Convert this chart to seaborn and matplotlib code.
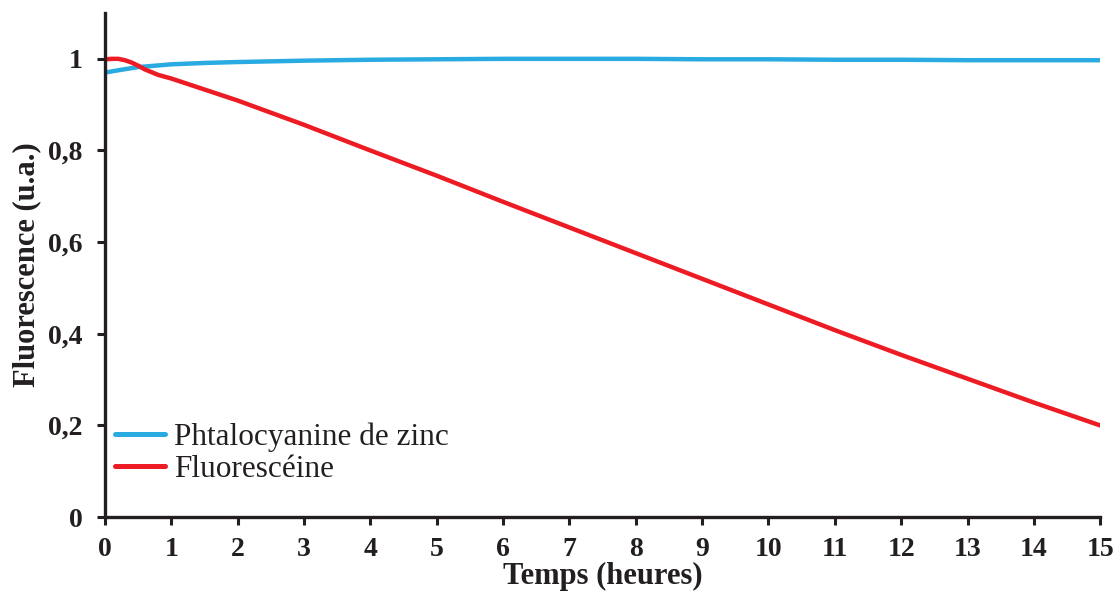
import pandas as pd
import matplotlib.pyplot as plt
import seaborn as sns

# valeurs
temps_zn = [0, 0.2, 0.5, 1, 1.5, 2, 3, 4, 5, 6, 7, 8, 9, 10, 11, 12, 13, 14, 15]
fluo_zn = [0.97, 0.975, 0.982, 0.988, 0.991, 0.993, 0.996, 0.998, 0.999, 1.0, 1.0,
           1.0, 0.999, 0.999, 0.998, 0.998, 0.997, 0.997, 0.997]

temps_fl = [0, 0.1, 0.2, 0.3, 0.4, 0.5, 0.6, 0.8, 1, 1.5, 2, 3, 4, 5, 6, 7, 8, 9,
            10, 11, 12, 13, 14, 15]
fluo_fl = [0.999, 1.0, 1.0, 0.997, 0.992, 0.985, 0.977, 0.965, 0.957, 0.933, 0.909,
           0.856, 0.800, 0.745, 0.688, 0.632, 0.576, 0.520, 0.464, 0.408, 0.354,
           0.302, 0.250, 0.200]

noms = ['Phtalocyanine de zinc', 'Fluorescéine']
couleurs = ['#29ABE2', '#ED1C24']

df = pd.concat([
    pd.DataFrame({'t': temps_zn, 'f': fluo_zn, 'serie': noms[0]}),
    pd.DataFrame({'t': temps_fl, 'f': fluo_fl, 'serie': noms[1]}),
])

sns.set_style('ticks')
plt.rcParams['font.family'] = ['Liberation Serif', 'DejaVu Serif']

fig = plt.figure(figsize=(11.17, 5.91), dpi=100)
ax = fig.add_axes([0.094, 0.125, 0.891, 0.853])

sns.lineplot(data=df, x='t', y='f', hue='serie', palette=couleurs,
             hue_order=noms, linewidth=3.2, ax=ax, sort=False)

ax.set_xlim(0, 15)
ax.set_ylim(0, 1.1)
ax.set_xticks(range(0, 16))
ax.set_yticks([0, 0.2, 0.4, 0.6, 0.8, 1])
ax.set_yticklabels(['0', '0,2', '0,4', '0,6', '0,8', '1'])
ax.tick_params(axis='both', direction='out', length=6, width=2.2,
               labelsize=20, color='#231F20', labelcolor='#231F20')
ax.tick_params(axis='x', pad=8)
ax.tick_params(axis='y', pad=10)
for lab in ax.get_xticklabels() + ax.get_yticklabels():
    lab.set_fontweight('bold')

sns.despine(ax=ax)
for s in ['left', 'bottom']:
    ax.spines[s].set_linewidth(2.4)
    ax.spines[s].set_color('#231F20')

ax.set_xlabel('Temps (heures)', fontsize=22, fontweight='bold', color='#231F20', labelpad=0)
ax.set_ylabel('Fluorescence (u.a.)', fontsize=22, fontweight='bold', color='#231F20', labelpad=5)

leg = ax.legend(loc='lower left', bbox_to_anchor=(0.01, 0.065), frameon=False,
                fontsize=22.5, handlelength=1.6, handletextpad=0.3, labelspacing=0.1,
                borderpad=0, borderaxespad=0)
for t in leg.get_texts():
    t.set_color('#231F20')
for h in leg.legend_handles:
    h.set_linewidth(3.6)

fig.savefig('out.png', dpi=100)
